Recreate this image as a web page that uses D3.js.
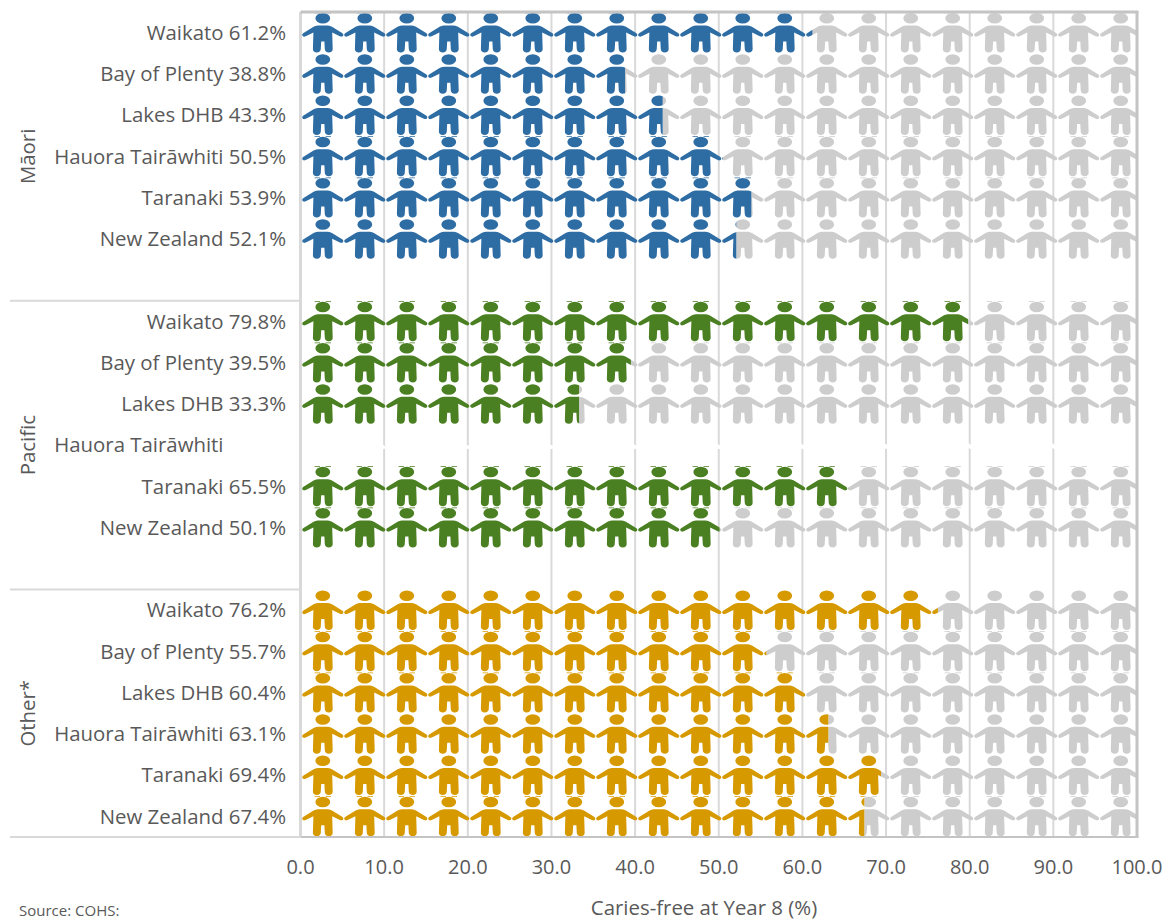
<!DOCTYPE html>
<html><head><meta charset="utf-8">
<script src="https://cdn.jsdelivr.net/npm/d3@7"></script>
<style>
html,body{margin:0;padding:0;background:#fff}
svg{display:block}
text{font-family:"Open Sans",sans-serif;fill:#595959}
</style></head><body>
<svg id="c" width="1165" height="920"></svg>
<script>
const groups = ["Māori", "Pacific", "Other*"];
const areas = ["Waikato", "Bay of Plenty", "Lakes DHB", "Hauora Tairāwhiti", "Taranaki", "New Zealand"];
const maoriValues = [61.2, 38.8, 43.3, 50.5, 53.9, 52.1];
const pacificValues = [79.8, 39.5, 33.3, null, 65.5, 50.1];
const otherValues = [76.2, 55.7, 60.4, 63.1, 69.4, 67.4];
const groupValues = [maoriValues, pacificValues, otherValues];
const groupColours = ["#2e6ca4", "#4a7f22", "#d69a00"];
const restColour = "#cdcdcd";
const xTicks = [0, 10, 20, 30, 40, 50, 60, 70, 80, 90, 100];
const iconStep = 5;
// rows (group, area) whose pictogram tile shows the seam dashes at its top edge
const seamRows = ["0-0", "0-3", "0-4", "1-0", "1-1", "1-4", "1-5", "2-1", "2-2", "2-5"];

const svg = d3.select("#c");
const plotLeft = 300.5, plotRight = 1137, plotTop = 12, plotBottom = 837;
const x = d3.scaleLinear().domain([0, 100]).range([plotLeft, plotRight]);
// the pictogram tile repeats on a slightly wider pitch than the value axis
const iconX = d3.scaleLinear().domain([2.5, 97.5]).range([322.8, 1120.7]);

// 20 bands: six rows plus one spacer for the first two groups, six rows for the last
const bandKeys = [];
groups.forEach((g, gi) => {
  areas.forEach((a, ai) => bandKeys.push(gi + "-" + ai));
  if (gi < groups.length - 1) bandKeys.push("gap-" + gi);
});
const y = d3.scaleBand().domain(bandKeys).range([plotTop, plotBottom]);

const rows = [];
groups.forEach((g, gi) => areas.forEach((a, ai) => rows.push({
  key: gi + "-" + ai, gi, area: a, value: groupValues[gi][ai]
})));
const iconStarts = d3.range(0, 100, iconStep);

const person =
  "M-2.6,13.4 L2.6,13.4 C5.5,13.4 7.8,13.9 9.2,14.8 L19.3,20.9 C21.2,22 20.8,24.2 18.9,24.6 C18,24.8 17,24.4 16,23.8 L9.4,20.6 " +
  "L9.9,37 C9.9,39.4 8.4,40.4 6,40.4 C3.6,40.4 2.2,39.4 2,37 L1.6,29.6 L-1.6,29.6 L-2,37 C-2.2,39.4 -3.6,40.4 -6,40.4 " +
  "C-8.4,40.4 -9.9,39.4 -9.9,37 L-9.4,20.6 L-16,23.8 C-17,24.4 -18,24.8 -18.9,24.6 C-20.8,24.2 -21.2,22 -19.3,20.9 L-9.2,14.8 " +
  "C-7.8,13.9 -5.5,13.4 -2.6,13.4 Z " +
  "M-7.4,6.3 A7.4,5.2 0 1 1 7.4,6.3 A7.4,5.2 0 1 1 -7.4,6.3 Z";
const seam = "M-8.2,0.4 H-2.8 V1.3 H-8.2 Z M2.8,0.4 H8.2 V1.3 H2.8 Z";

const defs = svg.append("defs");
const gridLayer = svg.append("g");
const iconLayer = svg.append("g");
const frameLayer = svg.append("g");

// gridlines
gridLayer.selectAll("line").data(xTicks.slice(1, -1)).join("line")
  .attr("x1", d => x(d)).attr("x2", d => x(d))
  .attr("y1", plotTop).attr("y2", plotBottom)
  .attr("stroke", "#d9d9d9").attr("stroke-width", 2);

function drawIcons(sel, colour, hasSeam, clipId) {
  const g = sel.append("g").attr("clip-path", clipId ? `url(#${clipId})` : null).attr("fill", colour);
  g.selectAll("path").data(iconStarts).join("path")
    .attr("transform", d => `translate(${iconX(d + iconStep / 2)},0)`)
    .attr("d", hasSeam ? person + " " + seam : person);
}

rows.forEach(r => {
  const rowG = iconLayer.append("g").attr("transform", `translate(0,${y(r.key)})`);
  const hasSeam = seamRows.includes(r.key);
  if (r.value === null) {
    drawIcons(rowG, "#fff", false, null);
    return;
  }
  const idA = "on" + r.key, idB = "off" + r.key;
  defs.append("clipPath").attr("id", idA).append("rect")
    .attr("x", x(0)).attr("y", -2).attr("width", x(r.value) - x(0)).attr("height", y.bandwidth() + 4);
  defs.append("clipPath").attr("id", idB).append("rect")
    .attr("x", x(r.value)).attr("y", -2).attr("width", x(100) - x(r.value)).attr("height", y.bandwidth() + 4);
  drawIcons(rowG, restColour, hasSeam, idB);
  drawIcons(rowG, groupColours[r.gi], hasSeam, idA);
});

// frame
const frame = frameLayer.append("g").attr("fill", "none");
frame.append("line").attr("x1", x(0)).attr("x2", x(0)).attr("y1", plotTop).attr("y2", plotBottom).attr("stroke", "#d9d9d9").attr("stroke-width", 3);
frame.append("line").attr("x1", x(0)).attr("x2", x(100) + 1.5).attr("y1", plotTop).attr("y2", plotTop).attr("stroke", "#c4c4c4").attr("stroke-width", 3);
frame.append("line").attr("x1", x(100)).attr("x2", x(100)).attr("y1", plotTop).attr("y2", plotBottom).attr("stroke", "#c4c4c4").attr("stroke-width", 3);
frame.append("line").attr("x1", x(0)).attr("x2", x(100) + 1.5).attr("y1", plotBottom).attr("y2", plotBottom).attr("stroke", "#c4c4c4").attr("stroke-width", 2);
frame.append("line").attr("x1", 10).attr("x2", x(0)).attr("y1", plotBottom).attr("y2", plotBottom).attr("stroke", "#d9d9d9").attr("stroke-width", 2);
["gap-0", "gap-1"].forEach(k => {
  frame.append("line").attr("x1", 10).attr("x2", x(0))
    .attr("y1", y(k) + y.step()).attr("y2", y(k) + y.step())
    .attr("stroke", "#d9d9d9").attr("stroke-width", 2);
});

// row labels
const labelFont = 20.4;
const labelG = svg.append("g").attr("font-size", labelFont).attr("text-anchor", "end");
const probe = labelG.append("text").text(" 00.0%").style("white-space", "pre");
const valueWidth = probe.node().getComputedTextLength();
probe.remove();
labelG.selectAll("text").data(rows).join("text")
  .attr("x", d => 286 - (d.value === null ? valueWidth : 0))
  .attr("y", d => y(d.key) + y.bandwidth() / 2)
  .attr("dy", "0.35em")
  .text(d => d.value === null ? d.area : `${d.area} ${d3.format(".1f")(d.value)}%`);

// group labels
const groupSpans = [["0-0", "gap-0"], ["1-0", "gap-1"], ["2-0", "2-5"]];
svg.append("g").attr("font-size", labelFont).attr("text-anchor", "middle")
  .selectAll("text").data(groups).join("text")
  .attr("transform", (d, i) => {
    const cy = (y(groupSpans[i][0]) + y(groupSpans[i][1]) + y.bandwidth()) / 2;
    return `translate(28,${cy}) rotate(-90)`;
  })
  .attr("dy", "0.35em")
  .text(d => d);

// x axis labels
svg.append("g").attr("font-size", 20).attr("text-anchor", "middle")
  .selectAll("text").data(xTicks).join("text")
  .attr("x", d => x(d)).attr("y", 874)
  .text(d => d3.format(".1f")(d));

svg.append("text").attr("x", 704).attr("y", 915).attr("font-size", labelFont).attr("text-anchor", "middle").text("Caries-free at Year 8 (%)");
svg.append("text").attr("x", 19).attr("y", 915.5).attr("font-size", 15).text("Source: COHS:");
</script>
</body></html>
